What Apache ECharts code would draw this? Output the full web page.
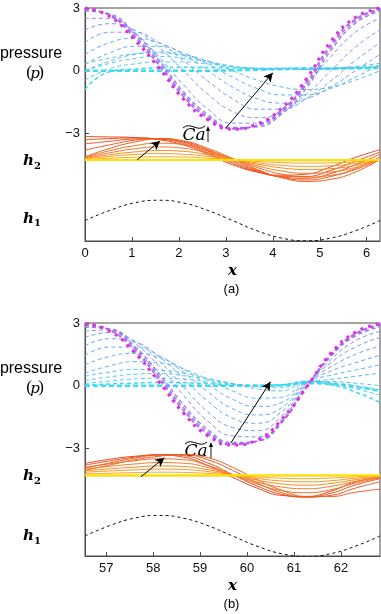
<!DOCTYPE html>
<html><head><meta charset="utf-8">
<script src="https://cdn.jsdelivr.net/npm/echarts@6/dist/echarts.min.js"></script>
<style>html,body{margin:0;padding:0;background:#fff}#c{width:381px;height:614px}</style>
</head><body><div id="c"></div>
<script>
// ---------- sample positions ----------
const xsA = [0, 0.5236, 1.0472, 1.5708, 2.0944, 2.618, 3.1416, 3.6652, 4.1888, 4.7124, 5.236, 5.7596, 6.2832];
const xsB = [56.5487, 57.0723, 57.5959, 58.1195, 58.6431, 59.1667, 59.6903, 60.2139, 60.7375, 61.2611, 61.7847, 62.3083, 62.8319];
const xTicksA = [0, 1, 2, 3, 4, 5, 6];
const xTicksB = [57, 58, 59, 60, 61, 62];
const yTicks = [-3, 0, 3];

// ---------- panel (a) pressure curves (magenta -> cyan) ----------
const pressureA = [
  [3.0, 2.6, 1.5, 0.15, -1.35, -2.35, -2.8, -2.55, -1.8, -0.4, 1.4, 2.55, 3.0],
  [2.96, 2.64, 1.6, 0.27, -1.24, -2.28, -2.79, -2.6, -1.9, -0.55, 1.25, 2.47, 2.96],
  [2.92, 2.68, 1.7, 0.38, -1.13, -2.2, -2.77, -2.64, -1.98, -0.68, 1.12, 2.38, 2.92],
  [2.86, 2.72, 1.82, 0.52, -1.0, -2.1, -2.72, -2.68, -2.08, -0.84, 0.96, 2.27, 2.86],
  [2.51, 2.51, 1.84, 0.67, -0.67, -1.84, -2.51, -2.51, -1.84, -0.67, 0.67, 1.84, 2.51],
  [1.95, 2.25, 1.95, 1.13, 0, -1.13, -1.95, -2.25, -1.95, -1.13, 0, 1.13, 1.95],
  [1.34, 1.84, 1.84, 1.34, 0.49, -0.49, -1.34, -1.84, -1.84, -1.34, -0.49, 0.49, 1.34],
  [0.78, 1.34, 1.55, 1.34, 0.78, 0, -0.78, -1.34, -1.55, -1.34, -0.78, 0, 0.78],
  [0.31, 0.85, 1.16, 1.16, 0.85, 0.31, -0.31, -0.85, -1.16, -1.16, -0.85, -0.31, 0.31],
  [0, 0.45, 0.78, 0.9, 0.78, 0.45, 0, -0.45, -0.78, -0.9, -0.78, -0.45, 0],
  [0.35, 0.6, 0.8, 0.85, 0.72, 0.45, 0.22, 0.1, 0.05, 0.05, 0.1, 0.2, 0.35],
  [0.0, 0.35, 0.58, 0.68, 0.6, 0.4, 0.2, 0.1, 0.06, 0.06, 0.1, 0.15, 0.25],
  [-0.45, 0.1, 0.32, 0.42, 0.42, 0.32, 0.18, 0.1, 0.08, 0.08, 0.1, 0.13, 0.18],
  [-0.9, -0.05, 0.08, 0.14, 0.16, 0.15, 0.13, 0.12, 0.12, 0.12, 0.12, 0.14, 0.15],
  [0, 0, 0, 0, 0, 0, 0.02, 0.05, 0.08, 0.1, 0.1, 0.12, 0.13]
];
// ---------- panel (b) pressure curves ----------
const pressureB = [
  [2.97, 2.62, 1.6, 0.2, -1.3, -2.4, -2.84, -2.6, -1.62, -0.1, 1.55, 2.55, 2.97],
  [2.93, 2.66, 1.7, 0.32, -1.18, -2.32, -2.82, -2.64, -1.7, -0.1, 1.5, 2.5, 2.93],
  [2.88, 2.7, 1.8, 0.45, -1.05, -2.22, -2.78, -2.66, -1.75, -0.08, 1.45, 2.45, 2.88],
  [2.8, 2.72, 1.9, 0.6, -0.9, -2.1, -2.72, -2.66, -1.78, -0.05, 1.4, 2.38, 2.8],
  [2.6, 2.68, 2.05, 0.95, -0.45, -1.7, -2.4, -2.45, -1.6, 0.0, 1.25, 2.15, 2.6],
  [2.3, 2.55, 2.15, 1.2, -0.05, -1.25, -2.0, -2.15, -1.45, 0.05, 1.1, 1.85, 2.3],
  [1.9, 2.25, 2.1, 1.4, 0.35, -0.75, -1.55, -1.8, -1.25, 0.1, 0.9, 1.5, 1.9],
  [1.45, 1.85, 1.85, 1.45, 0.65, -0.3, -1.1, -1.4, -1.05, 0.12, 0.7, 1.1, 1.45],
  [1.0, 1.4, 1.55, 1.35, 0.8, 0.05, -0.65, -1.0, -0.8, 0.15, 0.5, 0.75, 1.0],
  [0.6, 0.95, 1.15, 1.1, 0.8, 0.3, -0.25, -0.6, -0.55, 0.17, 0.3, 0.45, 0.6],
  [0.45, 0.65, 0.78, 0.75, 0.6, 0.35, 0.1, -0.15, -0.25, 0.18, 0.2, 0.12, 0.0],
  [0.25, 0.42, 0.55, 0.58, 0.48, 0.3, 0.1, -0.05, -0.1, 0.2, 0.15, 0.0, -0.2],
  [0.1, 0.22, 0.32, 0.36, 0.32, 0.2, 0.08, 0.0, 0.0, 0.22, 0.1, -0.15, -0.45],
  [0.02, 0.08, 0.12, 0.15, 0.14, 0.1, 0.05, 0.02, 0.05, 0.2, 0.05, -0.3, -0.8],
  [0, 0, 0, 0, 0, 0, 0, 0, 0.02, 0.12, 0.08, -0.05, -0.25]
];
const pressureColors = ['#e22ee2','#b85cee','#a26ef0','#927ef2','#7f8ef4','#7498f4','#6aa2f4','#62aaf4','#5ab2f4','#56baf4','#54c2f4','#4ecaf2','#46d2f0','#40d8f0','#3ddcf2'];

// ---------- interface h2 (red -> yellow flat) ----------
const h2A = [
  [-3.15, -3.17, -3.20, -3.30, -3.55, -4.00, -4.50, -4.85, -5.00, -4.95, -4.60, -4.15, -3.78],
  [-3.30, -3.25, -3.22, -3.27, -3.48, -3.93, -4.43, -4.83, -5.05, -5.06, -4.77, -4.33, -3.90],
  [-3.50, -3.38, -3.27, -3.25, -3.42, -3.85, -4.35, -4.80, -5.08, -5.15, -4.92, -4.50, -4.00],
  [-3.80, -3.55, -3.33, -3.25, -3.38, -3.78, -4.28, -4.76, -5.10, -5.23, -5.06, -4.68, -4.13],
  [-4.12, -3.72, -3.42, -3.27, -3.36, -3.72, -4.20, -4.72, -5.12, -5.30, -5.20, -4.85, -4.25],
  [-4.15, -3.83, -3.59, -3.47, -3.54, -3.83, -4.21, -4.63, -4.95, -5.09, -5.01, -4.73, -4.25],
  [-4.18, -3.93, -3.74, -3.65, -3.71, -3.93, -4.23, -4.55, -4.80, -4.91, -4.85, -4.63, -4.26],
  [-4.20, -4.02, -3.89, -3.82, -3.86, -4.02, -4.24, -4.47, -4.65, -4.73, -4.69, -4.53, -4.26],
  [-4.22, -4.10, -4.01, -3.97, -4.00, -4.10, -4.25, -4.41, -4.53, -4.58, -4.55, -4.44, -4.26],
  [-4.25, -4.19, -4.14, -4.12, -4.13, -4.19, -4.26, -4.34, -4.40, -4.42, -4.41, -4.36, -4.27],
  [-4.30, -4.29, -4.29, -4.28, -4.28, -4.29, -4.30, -4.31, -4.31, -4.31, -4.31, -4.30, -4.30],
  [-4.27, -4.27, -4.27, -4.27, -4.27, -4.27, -4.27, -4.27, -4.27, -4.27, -4.27, -4.27, -4.27]
];
const h2B = [
  [-3.72, -3.52, -3.38, -3.32, -3.42, -3.82, -4.38, -4.90, -5.25, -5.30, -5.05, -4.60, -4.40],
  [-3.80, -3.60, -3.42, -3.30, -3.35, -3.70, -4.25, -4.80, -5.20, -5.33, -5.15, -4.75, -4.45],
  [-3.95, -3.70, -3.47, -3.32, -3.30, -3.55, -4.05, -4.65, -5.12, -5.33, -5.25, -4.90, -4.60],
  [-4.05, -3.80, -3.55, -3.38, -3.30, -3.45, -3.90, -4.50, -5.00, -5.30, -5.30, -5.10, -4.95],
  [-3.90, -3.74, -3.59, -3.50, -3.54, -3.82, -4.26, -4.70, -5.02, -5.12, -4.98, -4.66, -4.42],
  [-3.99, -3.86, -3.75, -3.68, -3.71, -3.92, -4.27, -4.61, -4.85, -4.93, -4.82, -4.58, -4.39],
  [-4.07, -3.98, -3.90, -3.84, -3.87, -4.02, -4.27, -4.52, -4.70, -4.76, -4.68, -4.50, -4.36],
  [-4.14, -4.08, -4.03, -3.99, -4.01, -4.11, -4.28, -4.44, -4.56, -4.60, -4.55, -4.43, -4.34],
  [-4.22, -4.19, -4.16, -4.14, -4.15, -4.20, -4.28, -4.37, -4.43, -4.45, -4.42, -4.36, -4.31],
  [-4.32, -4.32, -4.32, -4.32, -4.32, -4.32, -4.32, -4.32, -4.32, -4.32, -4.32, -4.32, -4.32],
  [-4.29, -4.29, -4.29, -4.29, -4.29, -4.29, -4.29, -4.29, -4.29, -4.29, -4.29, -4.29, -4.29]
];
const h2ColorsA = ['#e8461c','#ea4c1c','#ec521e','#ee5a1e','#f0601e','#f26e20','#f47c22','#f68a22','#f79822','#f9a820','#fab41c','#ffe000'];
const h2ColorsB = ['#e8461c','#ec521e','#ee5a1e','#f0601e','#f26e20','#f47c22','#f68a22','#f79822','#f9a820','#fab41c','#ffe000'];

// ---------- wall h1 ----------
const h1A = [-7.17, -6.69, -6.33, -6.2, -6.33, -6.69, -7.17, -7.66, -8.01, -8.14, -8.01, -7.66, -7.17];
const h1B = [-7.19, -6.7, -6.34, -6.21, -6.34, -6.7, -7.19, -7.68, -8.04, -8.17, -8.04, -7.68, -7.19];

// ---------- build ----------
const chart = echarts.init(document.getElementById('c'), null, {renderer: 'canvas'});
const axisCol = '#4a4a4a';
const fmt = v => (v < 0 ? '\u2212' + Math.abs(v) : String(v));
const pair = (xs, row) => xs.map((x, i) => [x, row[i]]);

function xAxisOf(gi, mn, mx, ticks) {
  return {gridIndex: gi, type: 'value', min: mn, max: mx,
    axisLine: {show: true, onZero: false, lineStyle: {color: axisCol, width: 1}},
    axisTick: {show: true, inside: true, length: 4, customValues: ticks, lineStyle: {color: axisCol}},
    axisLabel: {customValues: ticks, fontSize: 13, color: '#111', fontFamily: 'Liberation Sans', margin: 6},
    splitLine: {show: false}};
}
function yAxisOf(gi) {
  return {gridIndex: gi, type: 'value', min: -8.15, max: 3,
    axisLine: {show: true, onZero: false, lineStyle: {color: axisCol, width: 1}},
    axisTick: {show: true, inside: true, length: 4, customValues: yTicks, lineStyle: {color: axisCol}},
    axisLabel: {customValues: yTicks, formatter: fmt, fontSize: 13, color: '#111', fontFamily: 'Liberation Sans', margin: 5},
    splitLine: {show: false}};
}

const series = [];
function addPanel(gi, xs, pres, h2, h2cols, h1, arrP, arrH) {
  h2.forEach((row, k) => {
    const last = k === h2.length - 1;
    series.push({type: 'line', xAxisIndex: gi, yAxisIndex: gi, data: pair(xs, row), smooth: true,
      symbol: 'none', lineStyle: {color: h2cols[k], width: last ? 2 : 1}, z: 2 + k * 0.01, silent: true});
  });
  for (let k = pres.length - 1; k >= 0; k--) {
    let w = 1, dash = [4, 3];
    if (k === 0) { w = 3; dash = [3, 5]; }
    else if (k <= 3) { w = 1.4; dash = [4, 3]; }
    else if (k === pres.length - 1) { w = 2.6; dash = [5, 3]; }
    else if (k === pres.length - 2) { w = 1.5; }
    series.push({type: 'line', xAxisIndex: gi, yAxisIndex: gi, data: pair(xs, pres[k]), smooth: true,
      symbol: 'none', lineStyle: {color: pressureColors[k], width: w, type: dash}, z: 3, silent: true});
  }
  series.push({type: 'line', xAxisIndex: gi, yAxisIndex: gi, data: pair(xs, h1), smooth: true,
    symbol: 'none', lineStyle: {color: '#111', width: 1, type: [3, 3]}, z: 4, silent: true,
    markLine: {silent: true, symbol: ['none', 'arrow'], symbolSize: [7, 9], animation: false,
      lineStyle: {color: '#000', width: 1, type: 'solid'}, label: {show: false},
      data: [[{coord: arrP[0]}, {coord: arrP[1]}], [{coord: arrH[0]}, {coord: arrH[1]}]]}});
}
addPanel(0, xsA, pressureA, h2A, h2ColorsA, h1A, [[3.0, -2.74], [4.0, -0.1]], [[1.11, -4.27], [1.6, -3.36]]);
addPanel(1, xsB, pressureB, h2B, h2ColorsB, h1B, [[59.65, -2.76], [60.5, 0.19]], [[57.74, -4.36], [58.24, -3.45]]);

function txt(x, y, text, font) {
  return {type: 'text', x: x, y: y, silent: true,
    style: Object.assign({text: text, fill: '#000', align: 'center', verticalAlign: 'middle'}, font)};
}
const sans = {fontFamily: 'Liberation Sans', fontSize: 16};
const serifI = {fontFamily: 'DejaVu Serif', fontStyle: 'italic', fontWeight: 'bold', fontSize: 15};
const graphics = [];
function panelText(dy, tag, ca) {
  graphics.push(txt(31, 53.5 + dy, 'pressure', sans));
  graphics.push(txt(29, 73 + dy, '(', {fontFamily: 'Liberation Serif', fontSize: 17}));
  graphics.push(txt(35, 74 + dy, 'p', {fontFamily: 'DejaVu Serif', fontStyle: 'italic', fontSize: 15}));
  graphics.push(txt(41, 73 + dy, ')', {fontFamily: 'Liberation Serif', fontSize: 17}));
  graphics.push(txt(28.5, ca.h2y, 'h', serifI));
  graphics.push(txt(37.5, ca.h2y + 4.5, '2', {fontFamily: 'DejaVu Serif', fontWeight: 'bold', fontSize: 10}));
  graphics.push(txt(28.5, ca.h1y, 'h', serifI));
  graphics.push(txt(37.5, ca.h1y + 4.5, '1', {fontFamily: 'DejaVu Serif', fontWeight: 'bold', fontSize: 10}));
  graphics.push(txt(232.5, ca.xy, 'x', {fontFamily: 'DejaVu Serif', fontStyle: 'italic', fontWeight: 'bold', fontSize: 15}));
  graphics.push(txt(231.5, ca.xy + 18, tag, {fontFamily: 'Liberation Sans', fontSize: 13}));
  graphics.push(txt(ca.cx, ca.cy, 'Ca', {fontFamily: 'DejaVu Serif', fontStyle: 'italic', fontSize: 17}));
  graphics.push({type: 'bezierCurve', silent: true,
    shape: {x1: ca.cx - 11, y1: ca.cy - 8, x2: ca.cx + 11, y2: ca.cy - 10, cpx1: ca.cx - 4, cpy1: ca.cy - 15, cpx2: ca.cx + 4, cpy2: ca.cy - 3},
    style: {stroke: '#000', lineWidth: 1, fill: null}});
  graphics.push({type: 'line', silent: true, shape: {x1: ca.ax, y1: ca.cy + 6, x2: ca.ax, y2: ca.cy - 8},
    style: {stroke: '#000', lineWidth: 0.9}});
  graphics.push({type: 'polygon', silent: true, shape: {points: [[ca.ax - 2, ca.cy - 5], [ca.ax, ca.cy - 10], [ca.ax + 2, ca.cy - 5]]},
    style: {fill: '#000'}});
}
panelText(0, '(a)', {h2y: 161.5, h1y: 219, xy: 271, cx: 194, cy: 136, ax: 208});
panelText(315, '(b)', {h2y: 476.5, h1y: 536.5, xy: 586, cx: 196, cy: 452, ax: 211});

chart.setOption({
  animation: false,
  backgroundColor: '#fff',
  grid: [
    {left: 85, top: 8, width: 295, height: 233, show: true, borderColor: axisCol, borderWidth: 1, backgroundColor: 'transparent'},
    {left: 85, top: 323, width: 295, height: 233, show: true, borderColor: axisCol, borderWidth: 1, backgroundColor: 'transparent'}
  ],
  xAxis: [xAxisOf(0, 0, 6.2832, xTicksA), xAxisOf(1, 56.5487, 62.8319, xTicksB)],
  yAxis: [yAxisOf(0), yAxisOf(1)],
  series: series,
  graphic: graphics
});
</script></body></html>
